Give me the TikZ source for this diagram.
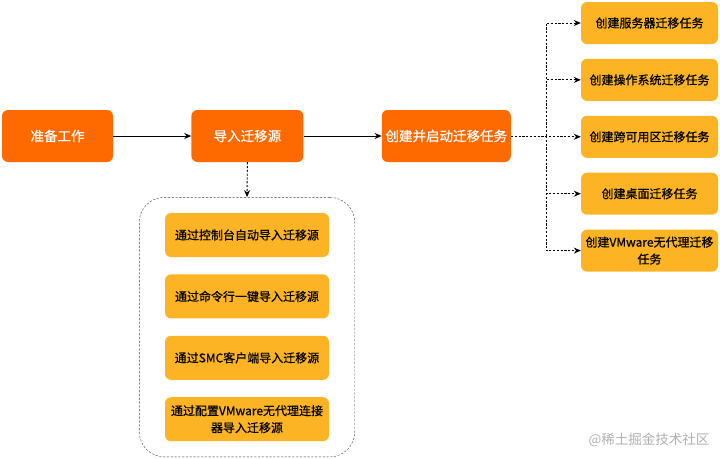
\documentclass[tikz,border=0pt]{standalone}
\usepackage{fontspec}
\setmainfont{Noto Sans CJK SC}[FakeBold=0.6]
\newfontfamily\markfont{Noto Sans CJK SC}
\usepackage{xcolor}
\definecolor{stageOrange}{HTML}{FF6A00}
\definecolor{taskAmber}{HTML}{FCB424}
\definecolor{markGray}{HTML}{B0B0B0}
\usetikzlibrary{positioning, arrows.meta, fit}

\begin{document}
\begin{tikzpicture}[
  x=1pt, y=-1pt,
  every node/.style={font=\fontsize{12}{17}\selectfont},
  stage/.style={rectangle, rounded corners=6pt, fill=stageOrange, text=white,
               minimum height=52pt, inner sep=1pt, align=center,
               font=\fontsize{13.5}{17}\selectfont},
  task/.style={rectangle, rounded corners=6pt, fill=taskAmber, text=black,
               minimum height=42pt, inner sep=1pt, align=center},
  group/.style={draw=black!75, dashed, dash pattern=on 2.2pt off 1.6pt,
               rounded corners=25pt},
  flow/.style={-{Stealth[length=7pt, width=6pt]}, thick, draw=black},
  dflow/.style={-{Stealth[length=7pt, width=6pt]}, draw=black,
               dash pattern=on 2.2pt off 1.6pt, line width=0.9pt},
]
\useasboundingbox (0,0) rectangle (720,458);

% Main stages
\node[stage, minimum width=111pt] (prep) at (57.5,136) {准备工作};
\node[stage, minimum width=112pt, right=78pt of prep] (import) {导入迁移源};
\node[stage, minimum width=129pt, right=78pt of import] (create) {创建并启动迁移任务};

% Import methods
\node[task, minimum width=164pt, minimum height=44pt] (s1) at (247,235) {通过控制台自动导入迁移源};
\node[task, minimum width=164pt, minimum height=44pt, below=17pt of s1] (s2) {通过命令行一键导入迁移源};
\node[task, minimum width=164pt, minimum height=44pt, below=17pt of s2] (s3) {通过SMC客户端导入迁移源};
\node[task, minimum width=164pt, minimum height=44pt, below=17pt of s3] (s4) {通过配置VMware无代理连接\\器导入迁移源};
\node[group, fit=(s1)(s4), inner xsep=25.5pt, inner ysep=15.5pt] (grp) {};

% Migration tasks
\node[task, minimum width=137pt] (t1) at (649.5,23) {创建服务器迁移任务};
\node[task, minimum width=137pt, below=14.5pt of t1] (t2) {创建操作系统迁移任务};
\node[task, minimum width=137pt, below=14.5pt of t2] (t3) {创建跨可用区迁移任务};
\node[task, minimum width=137pt, below=14.5pt of t3] (t4) {创建桌面迁移任务};
\node[task, minimum width=137pt, below=14.5pt of t4] (t5) {创建VMware无代理迁移\\任务};

% Arrows
\draw[flow] (prep) -- (import);
\draw[flow] (import) -- (create);
\draw[dflow] (import.south) -- (grp.north);
\coordinate (fork) at (546,136);
\draw[dflow, -] (create.east) -- (fork);
\foreach \i in {1,...,5}
  \draw[dflow] (fork) |- (t\i.west);

% Watermark
\node[text=markGray, font=\markfont\fontsize{13.5}{15}\selectfont] (mark) at (649,440) {@稀土掘金技术社区};

\end{tikzpicture}
\end{document}
